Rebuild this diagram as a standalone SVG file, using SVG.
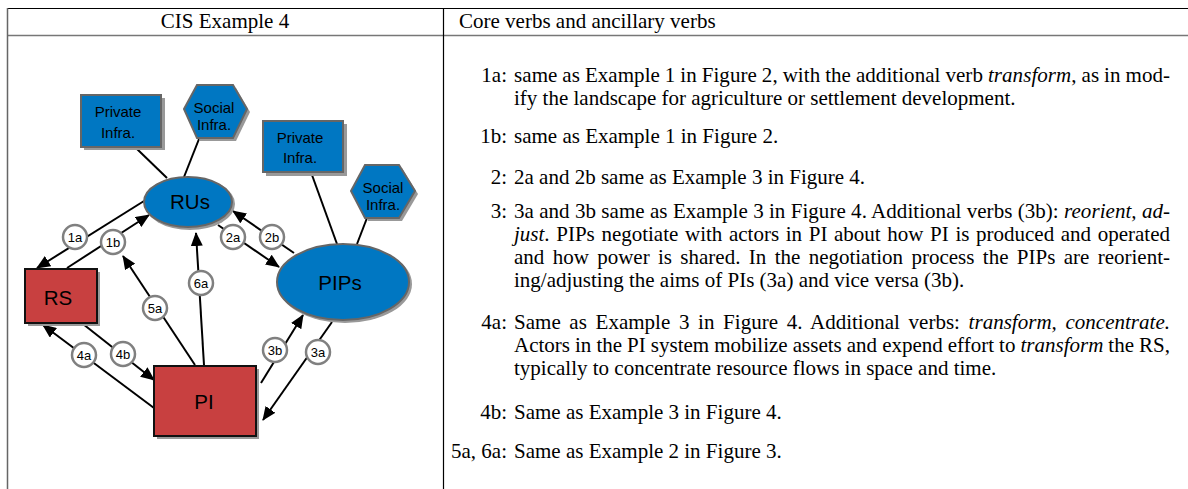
<svg xmlns="http://www.w3.org/2000/svg" width="1188" height="489" viewBox="0 0 1188 489">
<style>
.hdr{font-family:"Liberation Serif",serif;font-size:21px;fill:#000}
.body{font-family:"Liberation Serif",serif;font-size:21px;fill:#000}
.lbl{font-family:"Liberation Serif",serif;font-size:21px;fill:#000;text-anchor:end}
.blue{fill:#0077c2;stroke:#666;stroke-width:2}
.red{fill:#c84040;stroke:#111;stroke-width:2}
.shadow{fill:#999;stroke:none}
.nt{font-family:"Liberation Sans",Arial,sans-serif;font-size:15px;fill:#000;text-anchor:middle}
.big{font-family:"Liberation Sans",Arial,sans-serif;font-size:20.5px;fill:#000;text-anchor:middle}
.edge{stroke:#000;stroke-width:2;fill:none}
.arr{stroke:#000;stroke-width:2;fill:none;marker-end:url(#ah)}
.badge circle{fill:#fff;stroke:#808080;stroke-width:2.5}
.badge text{font-family:"Liberation Sans",Arial,sans-serif;font-size:13px;fill:#000;text-anchor:middle}
</style>
<defs>
<marker id="ah" markerUnits="userSpaceOnUse" markerWidth="14" markerHeight="12" refX="13" refY="6" orient="auto">
<path d="M0,0 L14,6 L0,12 z" fill="#000"/>
</marker>
</defs>
<rect width="1188" height="489" fill="#fff"/>
<g id="table">
<line x1="7" y1="8.5" x2="1188" y2="8.5" stroke="#000" stroke-width="1.2"/>
<line x1="7" y1="35.5" x2="1188" y2="35.5" stroke="#777" stroke-width="1.5"/>
<line x1="7.5" y1="8" x2="7.5" y2="489" stroke="#666" stroke-width="1.5"/>
<line x1="443.5" y1="8" x2="443.5" y2="489" stroke="#000" stroke-width="1.2"/>
<text class="hdr" x="225" y="28" text-anchor="middle">CIS Example 4</text>
<text class="hdr" x="459" y="28">Core verbs and ancillary verbs</text>
</g>
<g id="connectors">
<line class="edge" x1="137" y1="149" x2="167" y2="178"/>
<line class="edge" x1="199" y1="139" x2="184" y2="177"/>
<line class="edge" x1="312" y1="175" x2="337" y2="244"/>
<line class="edge" x1="367" y1="218" x2="357" y2="244"/>
<line class="arr" x1="144" y1="201" x2="37" y2="268"/>
<line class="arr" x1="67" y1="268" x2="149" y2="215"/>
<line class="arr" x1="195" y1="365" x2="123" y2="256"/>
<line class="arr" x1="204" y1="365" x2="196" y2="233"/>
<line class="arr" x1="218" y1="225" x2="279" y2="267"/>
<line class="arr" x1="294" y1="253" x2="233" y2="211"/>
<line class="arr" x1="261" y1="383" x2="303" y2="315"/>
<line class="arr" x1="332" y1="322" x2="263" y2="420"/>
<line class="arr" x1="154" y1="408" x2="43" y2="325"/>
<line class="arr" x1="83" y1="324" x2="154" y2="380"/>
</g>
<g id="priv1">
<rect class="shadow" x="84" y="98" width="81" height="52"/>
<rect class="blue" x="81" y="95" width="80" height="52"/>
<text class="nt" x="118" y="117">Private</text>
<text class="nt" x="118" y="138">Infra.</text>
</g>
<g id="soc1">
<polygon class="shadow" points="187,112 200,88 236,88 250,112 236,141 200,141"/>
<polygon class="blue" points="184,109 197,85 233,85 247,109 233,138 197,138"/>
<text class="nt" x="214" y="113">Social</text>
<text class="nt" x="214" y="130">Infra.</text>
</g>
<g id="priv2">
<rect class="shadow" x="266" y="124" width="81" height="52"/>
<rect class="blue" x="263" y="121" width="80" height="51"/>
<text class="nt" x="300" y="143">Private</text>
<text class="nt" x="300" y="163">Infra.</text>
</g>
<g id="soc2">
<polygon class="shadow" points="354,194 368,168 402,168 418,194 402,221 368,221"/>
<polygon class="blue" points="351,191 365,165 399,165 415,191 399,218 365,218"/>
<text class="nt" x="383" y="193">Social</text>
<text class="nt" x="383" y="210">Infra.</text>
</g>
<g id="rus">
<ellipse class="shadow" cx="190" cy="204" rx="45" ry="26"/>
<ellipse class="blue" cx="188" cy="202" rx="44" ry="25"/>
<text class="big" x="190" y="209">RUs</text>
</g>
<g id="pips">
<ellipse class="shadow" cx="345" cy="284" rx="67" ry="39"/>
<ellipse class="blue" cx="343" cy="282" rx="66" ry="38"/>
<text class="big" x="340" y="290">PIPs</text>
</g>
<g id="rs">
<rect class="shadow" x="28" y="272" width="72" height="54"/>
<rect class="red" x="25" y="269" width="72" height="54"/>
<text class="big" x="58" y="305">RS</text>
</g>
<g id="pi">
<rect class="shadow" x="157" y="369" width="102" height="70"/>
<rect class="red" x="154" y="366" width="102" height="70"/>
<text class="big" x="204" y="409">PI</text>
</g>
<g id="badges">
<g class="badge"><circle cx="75" cy="237" r="12"/><text x="75" y="241.5">1a</text></g>
<g class="badge"><circle cx="113" cy="242" r="12"/><text x="113" y="246.5">1b</text></g>
<g class="badge"><circle cx="155" cy="308" r="12"/><text x="155" y="312.5">5a</text></g>
<g class="badge"><circle cx="201" cy="283" r="12"/><text x="201" y="287.5">6a</text></g>
<g class="badge"><circle cx="233" cy="237" r="12"/><text x="233" y="241.5">2a</text></g>
<g class="badge"><circle cx="272" cy="237" r="12"/><text x="272" y="241.5">2b</text></g>
<g class="badge"><circle cx="275" cy="350" r="12"/><text x="275" y="354.5">3b</text></g>
<g class="badge"><circle cx="318" cy="352" r="12"/><text x="318" y="356.5">3a</text></g>
<g class="badge"><circle cx="84" cy="355" r="12"/><text x="84" y="359.5">4a</text></g>
<g class="badge"><circle cx="123" cy="354" r="12"/><text x="123" y="358.5">4b</text></g>
</g>
<g id="text">
<text class="lbl" x="507" y="82">1a:</text>
<text class="body" x="514" y="82" word-spacing="-0.4" textLength="656" lengthAdjust="spacing">same as Example 1 in Figure 2, with the additional verb <tspan font-style="italic">transform</tspan>, as in mod-</text>
<text class="body" x="514" y="105">ify the landscape for agriculture or settlement development.</text>
<text class="lbl" x="507" y="143">1b:</text>
<text class="body" x="514" y="143">same as Example 1 in Figure 2.</text>
<text class="lbl" x="507" y="184">2:</text>
<text class="body" x="514" y="184">2a and 2b same as Example 3 in Figure 4.</text>
<text class="lbl" x="507" y="218">3:</text>
<text class="body" x="514" y="218" textLength="656" lengthAdjust="spacing">3a and 3b same as Example 3 in Figure 4. Additional verbs (3b): <tspan font-style="italic">reorient, ad-</tspan></text>
<text class="body" x="514" y="241" word-spacing="1.4" textLength="656" lengthAdjust="spacing"><tspan font-style="italic">just</tspan>. PIPs negotiate with actors in PI about how PI is produced and operated</text>
<text class="body" x="514" y="264" word-spacing="3.1" textLength="656" lengthAdjust="spacing">and how power is shared. In the negotiation process the PIPs are reorient-</text>
<text class="body" x="514" y="287">ing/adjusting the aims of PIs (3a) and vice versa (3b).</text>
<text class="lbl" x="507" y="329">4a:</text>
<text class="body" x="514" y="329" word-spacing="3.4" textLength="656" lengthAdjust="spacing">Same as Example 3 in Figure 4. Additional verbs: <tspan font-style="italic">transform, concentrate.</tspan></text>
<text class="body" x="514" y="352" word-spacing="-0.2" textLength="656" lengthAdjust="spacing">Actors in the PI system mobilize assets and expend effort to <tspan font-style="italic">transform</tspan> the RS,</text>
<text class="body" x="514" y="375">typically to concentrate resource flows in space and time.</text>
<text class="lbl" x="507" y="419">4b:</text>
<text class="body" x="514" y="419">Same as Example 3 in Figure 4.</text>
<text class="lbl" x="507" y="458">5a, 6a:</text>
<text class="body" x="514" y="458">Same as Example 2 in Figure 3.</text>
</g>
</svg>
